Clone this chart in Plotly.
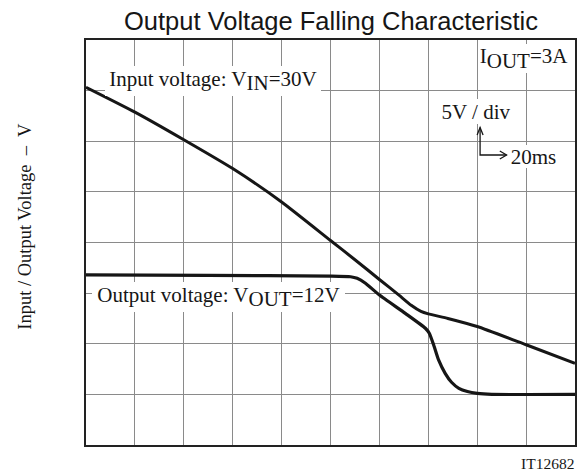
import plotly.graph_objects as go

# time axis (ms), 20 ms/div ; voltage axis (V), 5 V/div
input_t = [0, 20, 40, 60, 80, 100, 110, 120, 128, 133, 137, 140, 148, 160, 180, 200]
input_v = [30.33, 27.88, 25.15, 22.3, 19.0, 15.2, 13.3, 11.35, 9.8, 8.8, 8.2, 7.95, 7.5, 6.7, 4.9, 3.07]

output_t = [0, 50, 100, 108.2, 110.9, 114.3, 120, 130.6, 138.8, 140.4, 142.2, 144.2, 146.9,
            149.5, 152.5, 156, 160, 166, 200]
output_v = [11.8, 11.75, 11.68, 11.62, 11.46, 10.97, 9.81, 8.0, 6.53, 6.03, 4.88, 3.4, 2.08,
            1.2, 0.6, 0.28, 0.1, 0.0, 0.0]

x_range = [0, 200]
y_range = [-5, 35]
x_step = 20
y_step = 5

W, H = 585, 475
L, R, T, B = 86, 8, 40, 30
PW, PH = W - L - R, H - T - B


def xp(px):
    return (px - L) / PW


def yp(py):
    return (H - B - py) / PH


def xd(px):
    return x_range[0] + (px - L) / PW * (x_range[1] - x_range[0])


def yd(py):
    return y_range[0] + (H - B - py) / PH * (y_range[1] - y_range[0])


serif = "Liberation Serif, Times New Roman, serif"
sans = "Liberation Sans, Arial, sans-serif"
txt = "#161616"

fig = go.Figure()
fig.add_trace(go.Scatter(x=input_t, y=input_v, mode="lines",
                         line=dict(color="#161616", width=3, shape="spline", smoothing=0.5),
                         hoverinfo="skip", showlegend=False))
fig.add_trace(go.Scatter(x=output_t, y=output_v, mode="lines",
                         line=dict(color="#161616", width=3.2, shape="spline", smoothing=0.5),
                         hoverinfo="skip", showlegend=False))

FS = 21


def sub(s, size=FS):
    return '<sub><span style="font-size:%dpx">%s</span></sub>' % (size, s)


annotations = []


def box(text, x0, x1, y0, y1, align="left", size=FS):
    annotations.append(dict(
        text=text, xref="paper", yref="paper",
        x=xp((x0 + x1) / 2), y=yp((y0 + y1) / 2),
        xanchor="center", yanchor="middle",
        width=x1 - x0, height=y1 - y0, align=align, valign="middle",
        showarrow=False, bgcolor="white", borderpad=0, borderwidth=0,
        font=dict(family=serif, size=size, color=txt)))


box("Input voltage: V" + sub("IN") + "=30V", 106, 322, 66, 96, align="center")
box("Output voltage: V" + sub("OUT") + "=12V", 93, 346, 282, 312, align="center")
box("I" + sub("OUT") + "=3A", 480, 572, 44, 73, align="center")
box("5V / div", 441, 515, 99, 124, align="center")
box("20ms", 510, 561, 145, 168, align="center")

annotations.append(dict(
    text="IT12682", xref="paper", yref="paper", x=xp(578), y=yp(463),
    xanchor="right", yanchor="middle", showarrow=False,
    font=dict(family=serif, size=15.5, color=txt)))

annotations.append(dict(
    text="Input / Output Voltage  \u2013  V", xref="paper", yref="paper",
    x=xp(24), y=yp(226.5), xanchor="center", yanchor="middle", textangle=-90,
    showarrow=False, font=dict(family=serif, size=18.5, color=txt)))

annotations.append(dict(
    text="Output Voltage Falling Characteristic", xref="paper", yref="paper",
    x=xp(331.5), y=yp(21), xanchor="center", yanchor="middle",
    showarrow=False, font=dict(family=sans, size=25.5, color=txt)))

# scale arrow (5V/div up, 20ms right)
ax0, ay0 = 481.7, 155
path = "M %f,%f L %f,%f L %f,%f" % (xd(ax0), yd(127.5), xd(ax0), yd(ay0), xd(508.3), yd(ay0))
head_up = "M %f,%f L %f,%f L %f,%f" % (xd(478.7), yd(135), xd(ax0), yd(127.5), xd(484.7), yd(135))
head_r = "M %f,%f L %f,%f L %f,%f" % (xd(501.5), yd(151), xd(508.3), yd(ay0), xd(501.5), yd(159))
shapes = [dict(type="path", path=p, xref="x", yref="y", line=dict(color=txt, width=1.3))
          for p in (path, head_up, head_r)]

fig.update_layout(
    width=W, height=H,
    margin=dict(l=L, r=R, t=T, b=B),
    paper_bgcolor="white", plot_bgcolor="white",
    annotations=annotations, shapes=shapes,
    xaxis=dict(range=x_range, dtick=x_step, tick0=0, showticklabels=False, ticks="",
               showgrid=True, gridcolor="#8a8a8a", gridwidth=1.3, zeroline=False,
               showline=True, linecolor="#222", linewidth=1.5, mirror=True, fixedrange=True),
    yaxis=dict(range=y_range, dtick=y_step, tick0=0, showticklabels=False, ticks="",
               showgrid=True, gridcolor="#8a8a8a", gridwidth=1.3, zeroline=False,
               showline=True, linecolor="#222", linewidth=1.5, mirror=True, fixedrange=True),
)

fig.write_html("out.html", config={"displayModeBar": False},
               post_script="document.body.style.margin='0';document.body.style.overflow='hidden';")
